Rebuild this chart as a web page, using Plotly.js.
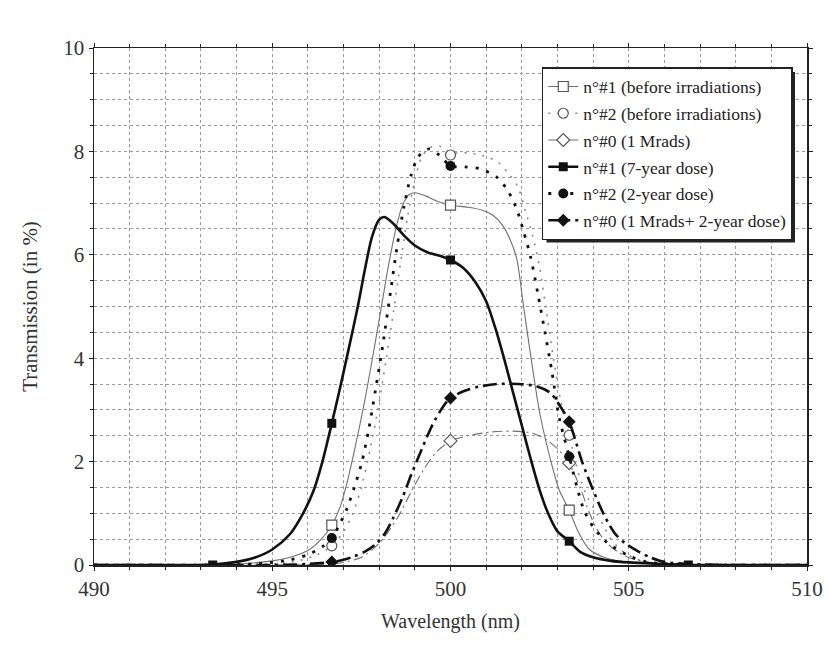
<!DOCTYPE html>
<html>
<head>
<meta charset="utf-8">
<script src="https://cdn.plot.ly/plotly-3.0.1.min.js"></script>
<style>html,body{margin:0;padding:0;background:#fff;}#chart{width:828px;height:652px;}</style>
</head>
<body>
<div id="chart"></div>
<script>
// ---- data ----
const names = [
  "n°#1 (before irradiations)",
  "n°#2 (before irradiations)",
  "n°#0 (1 Mrads)",
  "n°#1 (7-year dose)",
  "n°#2 (2-year dose)",
  "n°#0 (1 Mrads+ 2-year dose)"
];

// n°#1 before irradiations
const xA = [490, 494, 495, 495.5, 496, 496.35, 496.67, 496.9, 497.1, 497.3, 497.6, 497.85, 498.05, 498.25, 498.45, 498.65, 498.85, 499.0, 499.3, 499.65, 500, 500.5, 500.9, 501.2, 501.45, 501.65, 501.85, 502.05, 502.25, 502.5, 502.8, 503.05, 503.33, 503.6, 503.9, 504.3, 504.8, 505.5, 506.5, 510];
const yA = [0, 0.02, 0.08, 0.15, 0.28, 0.48, 0.77, 1.12, 1.6, 2.2, 3.2, 4.15, 4.95, 5.75, 6.45, 6.95, 7.17, 7.2, 7.14, 7.03, 6.96, 6.92, 6.86, 6.76, 6.58, 6.33, 5.95, 5.0, 4.05, 2.95, 2.05, 1.45, 1.06, 0.62, 0.3, 0.15, 0.07, 0.03, 0.01, 0];

// n°#2 before irradiations
const xB = [490, 494.5, 495.5, 496.2, 496.67, 497.0, 497.25, 497.5, 497.75, 498.0, 498.2, 498.4, 498.6, 498.8, 499.0, 499.2, 499.45, 499.7, 500, 500.5, 501.0, 501.35, 501.65, 501.9, 502.1, 502.3, 502.5, 502.7, 502.9, 503.1, 503.33, 503.6, 503.85, 504.1, 504.3, 504.5, 504.8, 505.2, 505.8, 507, 510];
const yB = [0, 0.01, 0.05, 0.18, 0.37, 0.65, 0.98, 1.5, 2.25, 3.15, 4.0, 4.9, 5.85, 6.75, 7.45, 7.9, 8.08, 8.1, 7.98, 7.97, 7.9, 7.78, 7.55, 7.3, 6.85, 6.38, 5.75, 4.85, 3.95, 3.15, 2.51, 1.75, 1.3, 1.0, 0.75, 0.5, 0.28, 0.12, 0.03, 0, 0];

// n°#0 1 Mrads
const xC = [490, 495, 496.67, 497.0, 497.5, 498.0, 498.5, 498.9, 499.25, 499.6, 500, 500.5, 501.1, 501.75, 502.3, 502.7, 503.0, 503.2, 503.33, 503.5, 503.7, 503.9, 504.1, 504.35, 504.7, 505.1, 505.6, 506.2, 507, 510];
const yC = [0, 0, 0.02, 0.05, 0.15, 0.42, 0.9, 1.42, 1.85, 2.18, 2.4, 2.5, 2.57, 2.59, 2.55, 2.42, 2.25, 2.1, 1.97, 1.72, 1.38, 1.0, 0.7, 0.45, 0.25, 0.12, 0.05, 0.01, 0, 0];

// n°#1 7-year dose
const xD = [490, 492, 493.33, 494, 494.5, 495, 495.5, 495.85, 496.15, 496.4, 496.67, 496.9, 497.15, 497.4, 497.6, 497.8, 498.0, 498.15, 498.4, 498.7, 499.0, 499.35, 499.7, 500, 500.35, 500.7, 501.0, 501.25, 501.5, 501.75, 502.0, 502.25, 502.5, 502.75, 503.0, 503.33, 503.65, 504.0, 504.5, 505, 506, 506.67, 508, 510];
const yD = [0, 0, 0.01, 0.06, 0.14, 0.3, 0.6, 0.98, 1.42, 1.98, 2.74, 3.42, 4.2, 5.0, 5.72, 6.35, 6.68, 6.73, 6.6, 6.37, 6.18, 6.05, 5.98, 5.9, 5.75, 5.47, 5.1, 4.6, 4.0, 3.35, 2.7, 2.05, 1.45, 0.98, 0.65, 0.46, 0.25, 0.15, 0.08, 0.05, 0.02, 0, 0, 0];

// n°#2 2-year dose
const xE = [490, 494.5, 495.5, 496.0, 496.4, 496.67, 496.9, 497.1, 497.3, 497.5, 497.7, 497.9, 498.1, 498.3, 498.5, 498.7, 498.9, 499.1, 499.4, 499.7, 500, 500.4, 500.85, 501.3, 501.6, 501.85, 502.05, 502.25, 502.45, 502.65, 502.85, 503.05, 503.33, 503.55, 503.75, 504.0, 504.4, 505.0, 505.5, 506.5, 510];
const yE = [0, 0.02, 0.1, 0.2, 0.35, 0.52, 0.8, 1.1, 1.5, 1.95, 2.6, 3.4, 4.25, 5.2, 6.15, 6.95, 7.55, 7.9, 8.05, 7.92, 7.72, 7.7, 7.66, 7.5, 7.25, 6.9, 6.45, 5.95, 5.25, 4.5, 3.72, 2.85, 2.1, 1.5, 1.05, 0.74, 0.43, 0.18, 0.06, 0.01, 0];

// n°#0 1 Mrads + 2-year dose
const xF = [490, 495, 496, 496.67, 497, 497.3, 497.6, 497.9, 498.15, 498.4, 498.65, 498.9, 499.2, 499.5, 499.8, 500, 500.4, 500.8, 501.3, 501.9, 502.4, 502.8, 503.05, 503.33, 503.5, 503.7, 504.0, 504.3, 504.6, 504.9, 505.3, 505.6, 506, 507, 510];
const yF = [0, 0, 0.02, 0.06, 0.1, 0.17, 0.26, 0.4, 0.6, 0.92, 1.3, 1.75, 2.25, 2.72, 3.07, 3.23, 3.37, 3.45, 3.5, 3.5, 3.46, 3.33, 3.1, 2.77, 2.42, 1.98, 1.45, 0.98, 0.62, 0.42, 0.25, 0.15, 0.06, 0.01, 0];

// marker points
const mxA = [496.67, 500, 503.33], myA = [0.77, 6.96, 1.06];
const mxB = [496.67, 500, 503.33], myB = [0.37, 7.93, 2.51];
const mxC = [500, 503.33],         myC = [2.4, 1.97];
const mxD = [493.33, 496.67, 500, 503.33, 506.67], myD = [0, 2.74, 5.9, 0.46, 0];
const mxE = [496.67, 500, 503.33], myE = [0.52, 7.72, 2.1];
const mxF = [496.67, 500, 503.33], myF = [0.06, 3.23, 2.77];

const xTicks = [490, 495, 500, 505, 510];
const yTicks = [0, 2, 4, 6, 8, 10];

// ---- styles ----
const FONT = '"Liberation Serif", serif';
const gray = "#707070";
const styles = [
  {line:{color:gray, width:1.1, dash:"solid"}, marker:{symbol:"square", size:10}, open:true},
  {line:{color:"#8a8a8a", width:1.6, dash:"2px,7px"}, marker:{symbol:"circle", size:10}, open:true},
  {line:{color:gray, width:1.1, dash:"10px,4px,2px,4px"}, marker:{symbol:"diamond", size:10}, open:true},
  {line:{color:"#111", width:2.6, dash:"solid"}, marker:{symbol:"square", size:9, color:"#111"}},
  {line:{color:"#111", width:2.8, dash:"3px,8px"}, marker:{symbol:"circle", size:10, color:"#111"}},
  {line:{color:"#111", width:2.6, dash:"14px,5px,3px,5px"}, marker:{symbol:"diamond", size:10, color:"#111"}}
];

const curves = [[xA,yA],[xB,yB],[xC,yC],[xD,yD],[xE,yE],[xF,yF]];
const marks = [[mxA,myA],[mxB,myB],[mxC,myC],[mxD,myD],[mxE,myE],[mxF,myF]];

const traces = [];
for (let i = 0; i < 6; i++) {
  const st = styles[i];
  const mk = Object.assign({}, st.marker);
  if (st.open) {
    mk.color = "#fff";
    mk.line = {color: "#555", width: 1.2};
  }
  traces.push({
    x: curves[i][0], y: curves[i][1], mode: "lines", type: "scatter",
    line: Object.assign({shape: "spline", smoothing: 0.8}, st.line),
    showlegend: false, legendgroup: "g" + i, hoverinfo: "skip"
  });
  traces.push({
    x: marks[i][0], y: marks[i][1], mode: "markers", type: "scatter",
    marker: mk, showlegend: false, legendgroup: "g" + i
  });
  traces.push({
    x: [null], y: [null], mode: "lines+markers", type: "scatter", name: names[i],
    line: Object.assign({}, st.line),
    marker: mk, legendgroup: "g" + i, showlegend: true
  });
}

const gridCol = "#9a9a9a";
const layout = {
  width: 828, height: 652,
  margin: {l: 94, r: 21, t: 48, b: 87},
  paper_bgcolor: "#fff", plot_bgcolor: "#fff",
  font: {family: FONT, color: "#222", size: 20},
  showlegend: true,
  legend: {
    x: 0.628, y: 0.963, xanchor: "left", yanchor: "top",
    bgcolor: "#fff", bordercolor: "#222", borderwidth: 1.5,
    font: {family: FONT, size: 17.5, color: "#222"},
    tracegroupgap: 1, traceorder: "grouped"
  },
  xaxis: {
    range: [490, 510], tickvals: xTicks, ticktext: xTicks.map(String),
    showgrid: true, gridcolor: gridCol, griddash: "dot", gridwidth: 1,
    minor: {dtick: 1, tick0: 490, showgrid: true, gridcolor: gridCol, griddash: "dot", gridwidth: 1, ticks: "outside", ticklen: 3, tickcolor: "#222"},
    ticks: "outside", ticklen: 4, tickcolor: "#222", tickwidth: 1,
    showline: true, linecolor: "#222", linewidth: 1.5, mirror: "allticks",
    zeroline: false,
    tickfont: {family: FONT, size: 21, color: "#333"},
    title: {text: "Wavelength (nm)", font: {family: FONT, size: 20, color: "#333"}, standoff: 14}
  },
  yaxis: {
    range: [0, 10], tickvals: yTicks, ticktext: yTicks.map(String),
    showgrid: true, gridcolor: gridCol, griddash: "dot", gridwidth: 1,
    minor: {dtick: 0.5, tick0: 0, showgrid: true, gridcolor: gridCol, griddash: "dot", gridwidth: 1, ticks: "outside", ticklen: 3, tickcolor: "#222"},
    ticks: "outside", ticklen: 4, tickcolor: "#222", tickwidth: 1,
    showline: true, linecolor: "#222", linewidth: 1.5, mirror: "allticks",
    zeroline: false,
    tickfont: {family: FONT, size: 21, color: "#333"},
    title: {text: "Transmission (in %)", font: {family: FONT, size: 21, color: "#333"}, standoff: 20}
  }
};

Plotly.newPlot("chart", traces, layout, {staticPlot: true}).then(function (gd) {
  // legend drop shadow
  const bg = gd.querySelector(".legend .bg");
  if (!bg) return;
  const r = bg.getBoundingClientRect();
  const c = gd.getBoundingClientRect();
  const fl = gd._fullLayout;
  const px2x = p => (p - c.left - fl._size.l) / fl._size.w;
  const px2y = p => 1 - (p - c.top - fl._size.t) / fl._size.h;
  Plotly.relayout(gd, {shapes: [{
    type: "rect", xref: "paper", yref: "paper",
    x0: px2x(r.left + 4), x1: px2x(r.right + 3),
    y0: px2y(r.bottom + 3), y1: px2y(r.top + 4),
    fillcolor: "#222", line: {width: 0}, layer: "above"
  }]});
});
</script>
</body>
</html>
